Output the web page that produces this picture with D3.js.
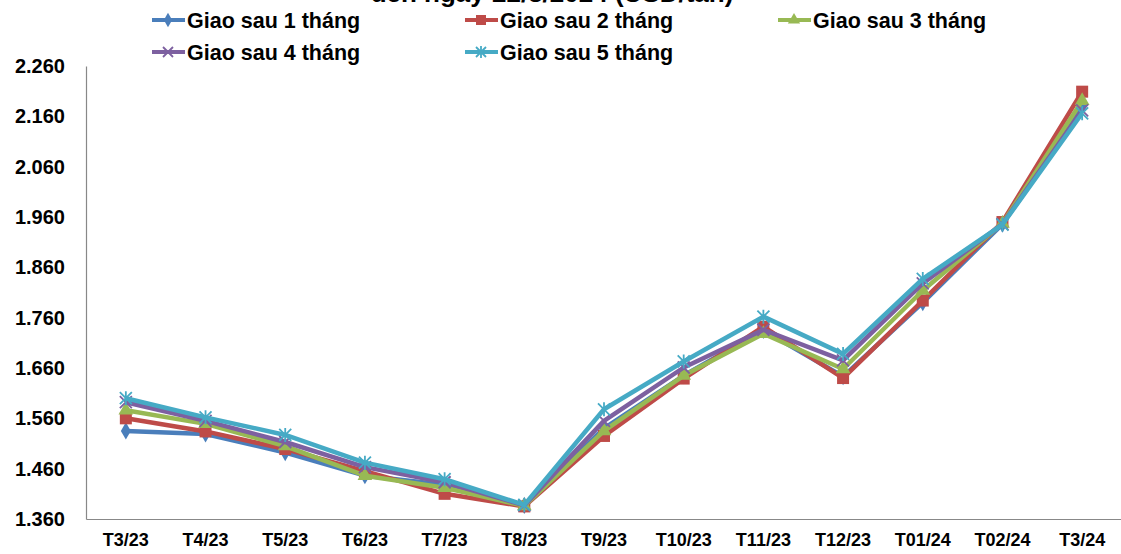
<!DOCTYPE html>
<html>
<head>
<meta charset="utf-8">
<script src="https://cdn.jsdelivr.net/npm/d3@7"></script>
<style>
  body { margin: 0; background: #fff; }
  text { font-family: "Liberation Sans", Arial, sans-serif; font-weight: bold; }
</style>
</head>
<body>
<svg id="chart" width="1121" height="554"></svg>
<script>
// months on the x axis
const months = ['T3/23', 'T4/23', 'T5/23', 'T6/23', 'T7/23', 'T8/23', 'T9/23',
  'T10/23', 'T11/23', 'T12/23', 'T01/24', 'T02/24', 'T3/24'];

// prices (USD/tấn)
const giao1 = [1535, 1529, 1492, 1446, 1428, 1387, 1540, 1645, 1735, 1643, 1790, 1946, 2180];
const giao2 = [1560, 1534, 1499, 1455, 1410, 1385, 1525, 1639, 1742, 1640, 1794, 1950, 2209];
const giao3 = [1576, 1549, 1505, 1446, 1422, 1386, 1535, 1645, 1728, 1658, 1814, 1947, 2191];
const giao4 = [1592, 1555, 1513, 1463, 1433, 1387, 1555, 1661, 1736, 1675, 1828, 1946, 2172];
const giao5 = [1600, 1562, 1527, 1472, 1439, 1388, 1578, 1673, 1762, 1688, 1837, 1945, 2166];

const seriesNames = ['Giao sau 1 tháng', 'Giao sau 2 tháng', 'Giao sau 3 tháng',
  'Giao sau 4 tháng', 'Giao sau 5 tháng'];
const yTicks = [1360, 1460, 1560, 1660, 1760, 1860, 1960, 2060, 2160, 2260];

const series = [
  { name: seriesNames[0], values: giao1, color: '#4A7EBB', marker: 'diamond' },
  { name: seriesNames[1], values: giao2, color: '#BE4B48', marker: 'square' },
  { name: seriesNames[2], values: giao3, color: '#98B954', marker: 'triangle' },
  { name: seriesNames[3], values: giao4, color: '#7D60A0', marker: 'cross' },
  { name: seriesNames[4], values: giao5, color: '#46AAC5', marker: 'star' }
];

const svg = d3.select('#chart');
const plotLeft = 86, plotRight = 1122, plotTop = 66, plotBottom = 519;

const x = d3.scaleBand().domain(months).range([plotLeft, plotRight]);
const y = d3.scaleLinear().domain([1360, 2260]).range([plotBottom, plotTop]);

// title, cut at the top edge like the original
svg.append('text')
  .attr('x', 552).attr('y', 1.5)
  .attr('text-anchor', 'middle')
  .attr('font-size', 26)
  .text('đến ngày 22/3/2024 (USD/tấn)');

// axes
const yAxis = svg.append('g')
  .attr('transform', `translate(${plotLeft},0)`)
  .call(d3.axisLeft(y).tickValues(yTicks).tickSize(0).tickPadding(21)
    .tickFormat((d) => (d / 1000).toFixed(3)));
yAxis.selectAll('text').attr('font-size', 20).attr('fill', '#000');
yAxis.select('.domain').attr('stroke', '#888').attr('stroke-width', 1.2);

const xAxis = svg.append('g')
  .attr('transform', `translate(0,${plotBottom})`)
  .call(d3.axisBottom(x).tickSize(0).tickPadding(14));
xAxis.selectAll('text').attr('font-size', 18).attr('fill', '#000');
xAxis.select('.domain').attr('stroke', '#888').attr('stroke-width', 1.2);

// marker drawing
function drawMarker(g, type, color, size) {
  const s = size;
  if (type === 'diamond') {
    g.append('path').attr('d', d3.symbol(d3.symbolDiamond, s * s * 0.6)())
      .attr('fill', color);
  } else if (type === 'square') {
    g.append('rect').attr('x', -s / 2).attr('y', -s / 2)
      .attr('width', s).attr('height', s).attr('fill', color);
  } else if (type === 'triangle') {
    g.append('path').attr('d', d3.symbol(d3.symbolTriangle, s * s * 0.65)())
      .attr('fill', color);
  } else if (type === 'cross') {
    const h = s / 2;
    g.append('path').attr('d', `M${-h},${-h}L${h},${h}M${-h},${h}L${h},${-h}`)
      .attr('stroke', color).attr('stroke-width', 1.8);
  } else {
    const h = s / 2;
    g.append('path')
      .attr('d', `M${-h},${-h}L${h},${h}M${-h},${h}L${h},${-h}M0,${-h - 1}L0,${h + 1}`)
      .attr('stroke', color).attr('stroke-width', 1.8);
  }
}

const line = d3.line()
  .x((d, i) => x(months[i]) + x.bandwidth() / 2)
  .y((d) => y(d));

series.forEach((s) => {
  svg.append('path')
    .datum(s.values)
    .attr('fill', 'none')
    .attr('stroke', s.color)
    .attr('stroke-width', 4.5)
    .attr('stroke-linejoin', 'round')
    .attr('d', line);
  s.values.forEach((v, i) => {
    const g = svg.append('g')
      .attr('transform', `translate(${x(months[i]) + x.bandwidth() / 2},${y(v)})`);
    drawMarker(g, s.marker, s.color, 12);
  });
});

// legend
const legendPos = [[152, 20], [465, 20], [778, 20], [152, 52], [465, 52]];
series.forEach((s, i) => {
  const [lx, ly] = legendPos[i];
  const g = svg.append('g').attr('transform', `translate(${lx},${ly})`);
  g.append('line').attr('x1', 0).attr('x2', 33).attr('y1', 0).attr('y2', 0)
    .attr('stroke', s.color).attr('stroke-width', 4);
  const m = g.append('g').attr('transform', 'translate(16,0)');
  drawMarker(m, s.marker, s.color, 10);
  g.append('text').attr('x', 35).attr('y', 8)
    .attr('font-size', 21.5).attr('fill', '#000').text(s.name);
});
</script>
</body>
</html>
